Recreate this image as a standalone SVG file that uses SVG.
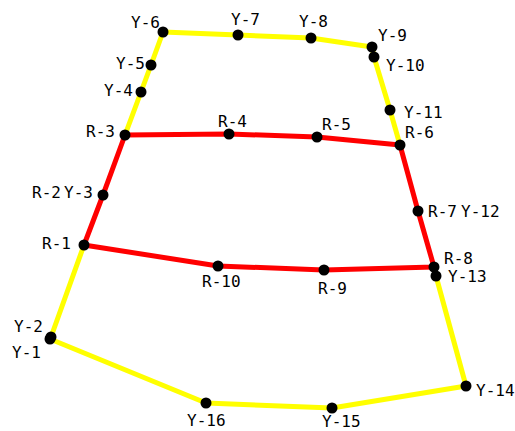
<svg xmlns="http://www.w3.org/2000/svg" width="515" height="431" viewBox="0 0 515 431">
<style>
.y{stroke:#ffff00;stroke-width:5;fill:none;stroke-linejoin:round}
.r{stroke:#ff0000;stroke-width:5;fill:none;stroke-linejoin:round}
circle{fill:#000}
text{font-family:"DejaVu Sans Mono","Liberation Mono",monospace;font-size:16px;fill:#000}
</style>
<rect width="515" height="431" fill="#fff"/>
<g id="connectors">
<polyline class="y" points="50,339 51,337 84,245"/>
<polyline class="y" points="125,135 141,92 151,65 163,32 238,35 311,38 372,47 374,57 390,110 400,145"/>
<polyline class="y" points="436,276 466,386 332,408 206,403 50,339"/>
<polygon class="r" points="84,245 103,195 125,135 229,134 317,137 400,145 418,211 434,267 324,270 218,266"/>
</g>
<g id="Y-1"><circle cx="50" cy="339" r="5.5"/><text x="12" y="358">Y-1</text></g>
<g id="Y-2"><circle cx="51" cy="337" r="5.5"/><text x="14" y="332">Y-2</text></g>
<g id="R-1"><circle cx="84" cy="245" r="5.5"/><text x="42" y="249">R-1</text></g>
<g id="R-2-Y-3"><circle cx="103" cy="195" r="5.5"/><text x="32" y="198">R-2</text><text x="64" y="198">Y-3</text></g>
<g id="R-3"><circle cx="125" cy="135" r="5.5"/><text x="86" y="137">R-3</text></g>
<g id="Y-4"><circle cx="141" cy="92" r="5.5"/><text x="104" y="96">Y-4</text></g>
<g id="Y-5"><circle cx="151" cy="65" r="5.5"/><text x="116" y="69">Y-5</text></g>
<g id="Y-6"><circle cx="163" cy="32" r="5.5"/><text x="131" y="28">Y-6</text></g>
<g id="Y-7"><circle cx="238" cy="35" r="5.5"/><text x="231" y="25">Y-7</text></g>
<g id="Y-8"><circle cx="311" cy="38" r="5.5"/><text x="299" y="27">Y-8</text></g>
<g id="Y-9"><circle cx="372" cy="47" r="5.5"/><text x="378" y="41">Y-9</text></g>
<g id="Y-10"><circle cx="374" cy="57" r="5.5"/><text x="386" y="71">Y-10</text></g>
<g id="Y-11"><circle cx="390" cy="110" r="5.5"/><text x="404" y="118">Y-11</text></g>
<g id="R-4"><circle cx="229" cy="134" r="5.5"/><text x="218" y="127">R-4</text></g>
<g id="R-5"><circle cx="317" cy="137" r="5.5"/><text x="322" y="130">R-5</text></g>
<g id="R-6"><circle cx="400" cy="145" r="5.5"/><text x="405" y="138">R-6</text></g>
<g id="R-7-Y-12"><circle cx="418" cy="211" r="5.5"/><text x="428" y="217">R-7</text><text x="461" y="217">Y-12</text></g>
<g id="R-8"><circle cx="434" cy="267" r="5.5"/><text x="444" y="264">R-8</text></g>
<g id="Y-13"><circle cx="436" cy="276" r="5.5"/><text x="448" y="282">Y-13</text></g>
<g id="Y-14"><circle cx="466" cy="386" r="5.5"/><text x="476" y="396">Y-14</text></g>
<g id="Y-15"><circle cx="332" cy="408" r="5.5"/><text x="322" y="427">Y-15</text></g>
<g id="Y-16"><circle cx="206" cy="403" r="5.5"/><text x="187" y="426">Y-16</text></g>
<g id="R-9"><circle cx="324" cy="270" r="5.5"/><text x="318" y="294">R-9</text></g>
<g id="R-10"><circle cx="218" cy="266" r="5.5"/><text x="202" y="287">R-10</text></g>
</svg>
